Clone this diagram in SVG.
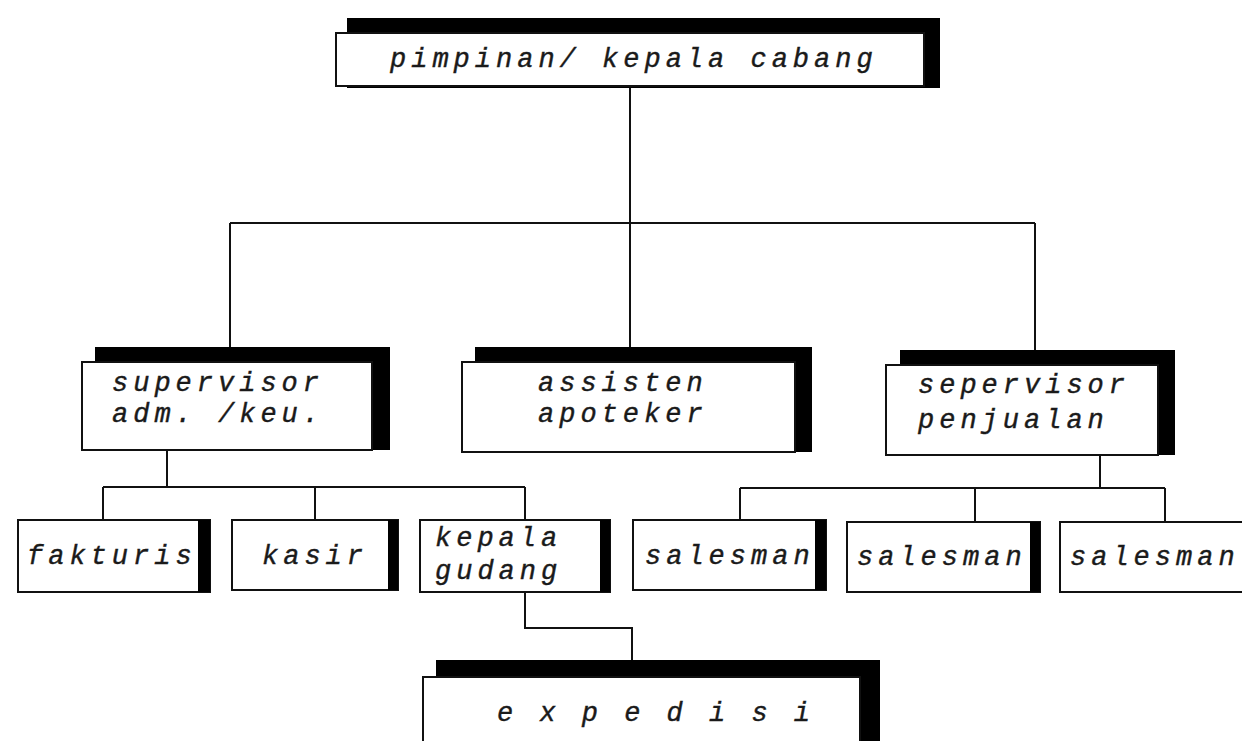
<svg xmlns="http://www.w3.org/2000/svg" width="1242" height="741" viewBox="0 0 1242 741">
<style>
.bg{fill:#fff}
.sh{fill:#000}
.bx{fill:#fff;stroke:#111;stroke-width:2}
.bar{fill:#000}
.ln{fill:none;stroke:#111;stroke-width:2}
.t{font-family:"Liberation Mono","DejaVu Sans Mono",monospace;font-style:italic;font-size:27px;letter-spacing:5px;fill:#1a1a1a;stroke:#1a1a1a;stroke-width:0.4}
</style>
<rect class="bg" x="0" y="0" width="1242" height="741"/>
<g id="connectors">
<path class="ln" d="M630 86 V223 M230 223 H1035 M230 223 V362 M630 223 V362 M1035 223 V365"/>
<path class="ln" d="M167 450 V487 M103 487 H525 M103 487 V520 M315 487 V520 M525 487 V520"/>
<path class="ln" d="M1100 455 V488 M740 488 H1165 M740 488 V520 M975 488 V522 M1165 488 V522"/>
<path class="ln" d="M525 592 V628 H632 V662"/>
</g>
<g id="n-pimpinan">
<rect class="sh" x="347" y="18" width="593" height="70"/>
<rect class="bx" x="336" y="33" width="588" height="53"/>
<text class="t" x="390" y="67">pimpinan/ kepala cabang</text>
</g>
<g id="n-supervisor">
<rect class="sh" x="95" y="347" width="295" height="103"/>
<rect class="bx" x="82" y="362" width="290" height="88"/>
<text class="t" x="112" y="391">supervisor</text>
<text class="t" x="112" y="422">adm. /keu.</text>
</g>
<g id="n-assisten">
<rect class="sh" x="475" y="347" width="337" height="105"/>
<rect class="bx" x="462" y="362" width="333" height="90"/>
<text class="t" x="538" y="391">assisten</text>
<text class="t" x="538" y="422">apoteker</text>
</g>
<g id="n-sepervisor">
<rect class="sh" x="900" y="350" width="275" height="105"/>
<rect class="bx" x="886" y="365" width="272" height="90"/>
<text class="t" x="918" y="393">sepervisor</text>
<text class="t" x="918" y="428">penjualan</text>
</g>
<g id="n-fakturis">
<rect class="bx" x="18" y="520" width="192" height="72"/>
<rect class="bar" x="198" y="520" width="12" height="72"/>
<text class="t" x="27" y="564">fakturis</text>
</g>
<g id="n-kasir">
<rect class="bx" x="232" y="520" width="166" height="70"/>
<rect class="bar" x="388" y="520" width="10" height="70"/>
<text class="t" x="262" y="564">kasir</text>
</g>
<g id="n-kepala-gudang">
<rect class="bx" x="420" y="520" width="190" height="72"/>
<rect class="bar" x="600" y="520" width="10" height="72"/>
<text class="t" x="435" y="546">kepala</text>
<text class="t" x="435" y="579">gudang</text>
</g>
<g id="n-salesman1">
<rect class="bx" x="633" y="520" width="193" height="70"/>
<rect class="bar" x="815" y="520" width="11" height="70"/>
<text class="t" x="645" y="564">salesman</text>
</g>
<g id="n-salesman2">
<rect class="bx" x="847" y="522" width="193" height="70"/>
<rect class="bar" x="1030" y="522" width="10" height="70"/>
<text class="t" x="857" y="565">salesman</text>
</g>
<g id="n-salesman3">
<rect class="bx" x="1060" y="522" width="190" height="70"/>
<text class="t" x="1070" y="565">salesman</text>
</g>
<g id="n-expedisi">
<rect class="sh" x="436" y="660" width="444" height="90"/>
<rect class="bx" x="423" y="677" width="437" height="80"/>
<text class="t" x="497" y="721">e x p e d i s i</text>
</g>
</svg>
